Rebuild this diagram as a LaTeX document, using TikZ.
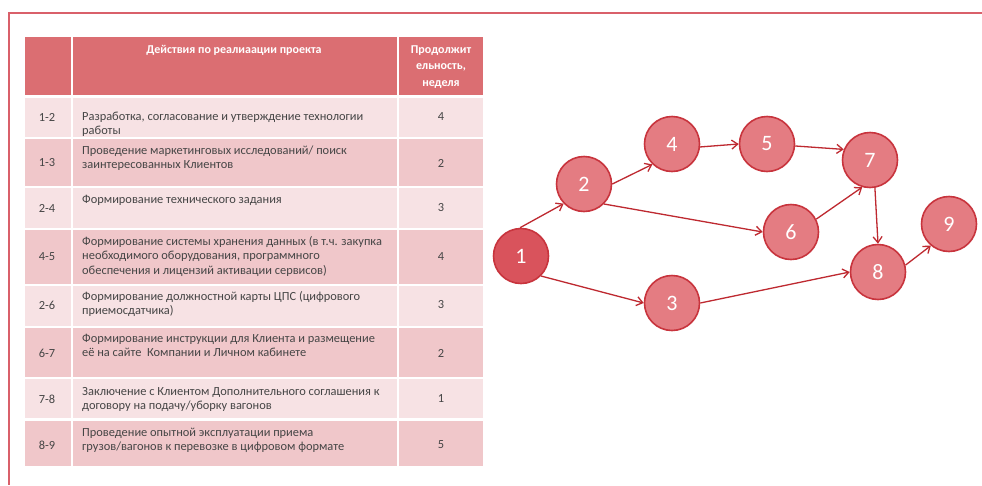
\documentclass[tikz,border=0pt]{standalone}
\usepackage{fontspec}
\setmainfont{Carlito}
\usepackage{tikz}
\usetikzlibrary{arrows.meta}

\definecolor{frameRed}{HTML}{D9606A}
\definecolor{headRed}{HTML}{DB6E72}
\definecolor{rowLight}{HTML}{F7E2E4}
\definecolor{rowDark}{HTML}{F0C7CA}
\definecolor{nodeFill}{HTML}{E47C82}
\definecolor{nodeDark}{HTML}{D9535C}
\definecolor{nodeLine}{HTML}{C8343D}
\definecolor{arrowRed}{HTML}{BE2930}
\definecolor{txtGray}{HTML}{454545}

\begin{document}
\begin{tikzpicture}[x=1pt,y=-1pt,
  event/.style={circle,draw=nodeLine,fill=nodeFill,line width=1.6pt,minimum size=55pt,inner sep=0pt,
    text=white,font=\fontsize{22}{24}\selectfont},
  start/.style={event,fill=nodeDark},
  act/.style={-{Straight Barb[length=6pt,width=9pt]},draw=arrowRed,line width=1.3pt},
  desc/.style={anchor=north west,align=left,inner sep=0pt,text=txtGray,font=\fontsize{12.4}{14.7}\selectfont},
  num/.style={inner sep=0pt,text=txtGray,font=\fontsize{12.4}{14}\selectfont},
  head/.style={inner sep=0pt,align=center,text=white,font=\bfseries\fontsize{12}{16.5}\selectfont}]
 \useasboundingbox (0,0) rectangle (982,485);
 \fill[white] (0,0) rectangle (982,485);
 \draw[frameRed,line width=2.5pt] (982,13) -- (9,13) -- (9,485);

 \fill[headRed] (25,37) rectangle (71,95);
 \fill[headRed] (73,37) rectangle (397,95);
 \fill[headRed] (399,37) rectangle (483,95);
 \foreach \ya/\yb/\c in {98/137/rowLight,139/186/rowDark,188/228/rowLight,230/284/rowDark,
   286/326/rowLight,328/377/rowDark,379/418/rowLight,421/466/rowDark}{
   \fill[\c] (25,\ya) rectangle (71,\yb);
   \fill[\c] (73,\ya) rectangle (397,\yb);
   \fill[\c] (399,\ya) rectangle (483,\yb);
 }

 \draw (234,50) node[head] (h-act) {Действия по реалиаации проекта};
 \draw (441,67) node[head] (h-dur) {Продолжит\\ельность,\\неделя};

 \draw (47,117) node[num] (r12) {1-2};
 \draw (47,163) node[num] (r13) {1-3};
 \draw (47,208) node[num] (r24) {2-4};
 \draw (47,257) node[num] (r45) {4-5};
 \draw (47,305) node[num] (r26) {2-6};
 \draw (47,353) node[num] (r67) {6-7};
 \draw (47,399) node[num] (r78) {7-8};
 \draw (47,445) node[num] (r89) {8-9};

 \draw (82,109.6) node[desc] (d12) {\strut Разработка, согласование и утверждение технологии\\работы};
 \draw (82,143.6) node[desc] (d13) {\strut Проведение маркетинговых исследований/ поиск\\заинтересованных Клиентов};
 \draw (82,192.6) node[desc] (d24) {\strut Формирование технического задания};
 \draw (82,234.6) node[desc] (d45) {\strut Формирование системы хранения данных (в т.ч. закупка\\необходимого оборудования, программного\\обеспечения и лицензий активации сервисов)};
 \draw (82,289.6) node[desc] (d26) {\strut Формирование должностной карты ЦПС (цифрового\\приемосдатчика)};
 \draw (82,331.6) node[desc] (d67) {\strut Формирование инструкции для Клиента и размещение\\её на сайте~ Компании и Личном кабинете};
 \draw (82,384.6) node[desc] (d78) {\strut Заключение с Клиентом Дополнительного соглашения к\\договору на подачу/уборку вагонов};
 \draw (82,425.6) node[desc] (d89) {\strut Проведение опытной эксплуатации приема\\грузов/вагонов к перевозке в цифровом формате};

 \draw (441,117) node[num] (w12) {4};
 \draw (441,163) node[num] (w13) {2};
 \draw (441,208) node[num] (w24) {3};
 \draw (441,257) node[num] (w45) {4};
 \draw (441,305) node[num] (w26) {3};
 \draw (441,353) node[num] (w67) {2};
 \draw (441,399) node[num] (w78) {1};
 \draw (441,445) node[num] (w89) {5};

 \draw (521,256) node[start] (n1) {1};
 \draw (584,184) node[event] (n2) {2};
 \draw (672,303) node[event] (n3) {3};
 \draw (672,144) node[event] (n4) {4};
 \draw (767,144) node[event] (n5) {5};
 \draw (791,232) node[event] (n6) {6};
 \draw (870,160) node[event] (n7) {7};
 \draw (878,272) node[event] (n8) {8};
 \draw (949,224) node[event] (n9) {9};

 \draw[act] (n1.92) -- (n2.224);
 \draw[act] (n1.315) -- (n3.180);
 \draw[act] (n2.0) -- (n4.226);
 \draw[act] (n2.315) -- (n6.180);
 \draw[act] (n4.354) -- (n5.180);
 \draw[act] (n5.356) -- (n7.158);
 \draw[act] (n6.27) -- (n7.254);
 \draw[act] (n7.280) -- (n8.90);
 \draw[act] (n3.0) -- (n8.180);
 \draw[act] (n8.14) -- (n9.230);
\end{tikzpicture}
\end{document}
